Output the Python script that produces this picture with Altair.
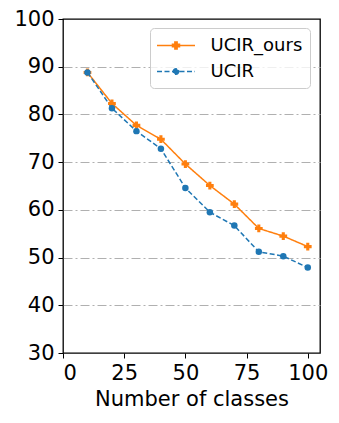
import altair as alt
import pandas as pd

classes = [10, 20, 30, 40, 50, 60, 70, 80, 90, 100]
ucir_ours = [88.8, 82.3, 77.7, 74.8, 69.6, 65.1, 61.2, 56.1, 54.5, 52.3]
ucir = [88.8, 81.3, 76.5, 72.8, 64.6, 59.5, 56.7, 51.2, 50.3, 47.9]
series = ["UCIR_ours", "UCIR"]
colors = ["#ff7f0e", "#1f77b4"]

rows = []
for c, a, b in zip(classes, ucir_ours, ucir):
    rows.append({"classes": c, "acc": a, "method": series[0]})
    rows.append({"classes": c, "acc": b, "method": series[1]})
df = pd.DataFrame(rows)

FONT = "DejaVu Sans"


def ring(r):
    return ("M{r},0A{r},{r} 0 1,1 -{r},0A{r},{r} 0 1,1 {r},0"
            "M-{r},0A{r},{r} 0 1,1 {r},0A{r},{r} 0 1,1 -{r},0").format(r=r)


# legend glyphs: a line segment with the series' marker in the middle
PLUS_PATH = ("M-2,0H2M-0.12,-0.37H0.12V-0.12H0.37V0.12H0.12V0.37H-0.12V0.12H-0.37V-0.12H-0.12Z"
             "M0,-0.3V0.3")
CIRCLE_PATH = "M-2,0H2" + ring(0.28) + ring(0.19) + ring(0.1)

x = alt.X("classes:Q", title="Number of classes",
          scale=alt.Scale(domain=[0, 105], nice=False, zero=False),
          axis=alt.Axis(values=[0, 25, 50, 75, 100], grid=False))
y = alt.Y("acc:Q", title=None,
          scale=alt.Scale(domain=[30, 100], nice=False, zero=False),
          axis=alt.Axis(values=[30, 40, 50, 60, 70, 80, 90, 100], grid=True,
                        gridColor="#b0b0b0", gridDash=[9, 3, 2, 3], gridWidth=1,
                        gridOpacity={"condition": {"test": "datum.value === 30 || datum.value === 100", "value": 0}, "value": 1}))

color = alt.Color("method:N", scale=alt.Scale(domain=series, range=colors),
                  title=None,
                  legend=alt.Legend(orient="none", legendX=87, legendY=9,
                                    symbolType=alt.ExprRef(expr="datum.value === 'UCIR' ? '" + CIRCLE_PATH + "' : '" + PLUS_PATH + "'"),
                                    symbolSize=361, symbolOffset=8.5,
                                    symbolStrokeWidth=1.5,
                                    labelFont=FONT, labelFontSize=18, labelColor="black",
                                    labelOffset=24, padding=7, rowPadding=6,
                                    fillColor="rgba(255,255,255,0.8)",
                                    strokeColor="#cccccc", cornerRadius=4))
dash = alt.StrokeDash("method:N", scale=alt.Scale(domain=series, range=[[1, 0], [5, 2.5]]),
                      title=None)

lines = alt.Chart(df).mark_line(strokeWidth=1.5).encode(x=x, y=y, color=color, strokeDash=dash)
pts_ours = alt.Chart(df).transform_filter(alt.datum.method == series[0]).mark_point(
    filled=True, opacity=1, strokeWidth=0, shape="cross", size=60, fill=colors[0]
).encode(x=x, y=y)
pts_base = alt.Chart(df).transform_filter(alt.datum.method == series[1]).mark_point(
    filled=True, opacity=1, strokeWidth=0, shape="circle", size=42, fill=colors[1]
).encode(x=x, y=y)

chart = alt.layer(lines, pts_ours, pts_base).properties(
    width=257, height=334,
    autosize=alt.AutoSizeParams(type="none"),
    padding={"left": 55, "top": 11, "right": 11, "bottom": 62},
).configure_view(stroke="black", strokeWidth=1.3).configure_axis(
    labelFont=FONT, labelFontSize=21, labelColor="black",
    titleFont=FONT, titleFontSize=21, titleColor="black", titleFontWeight="normal",
    tickColor="black", tickSize=5, tickWidth=1, domain=False,
    labelPadding=4, titlePadding=5,
).configure_axisX(labelAngle=0)

chart.save("out.html", embed_options={"renderer": "svg", "actions": False})
